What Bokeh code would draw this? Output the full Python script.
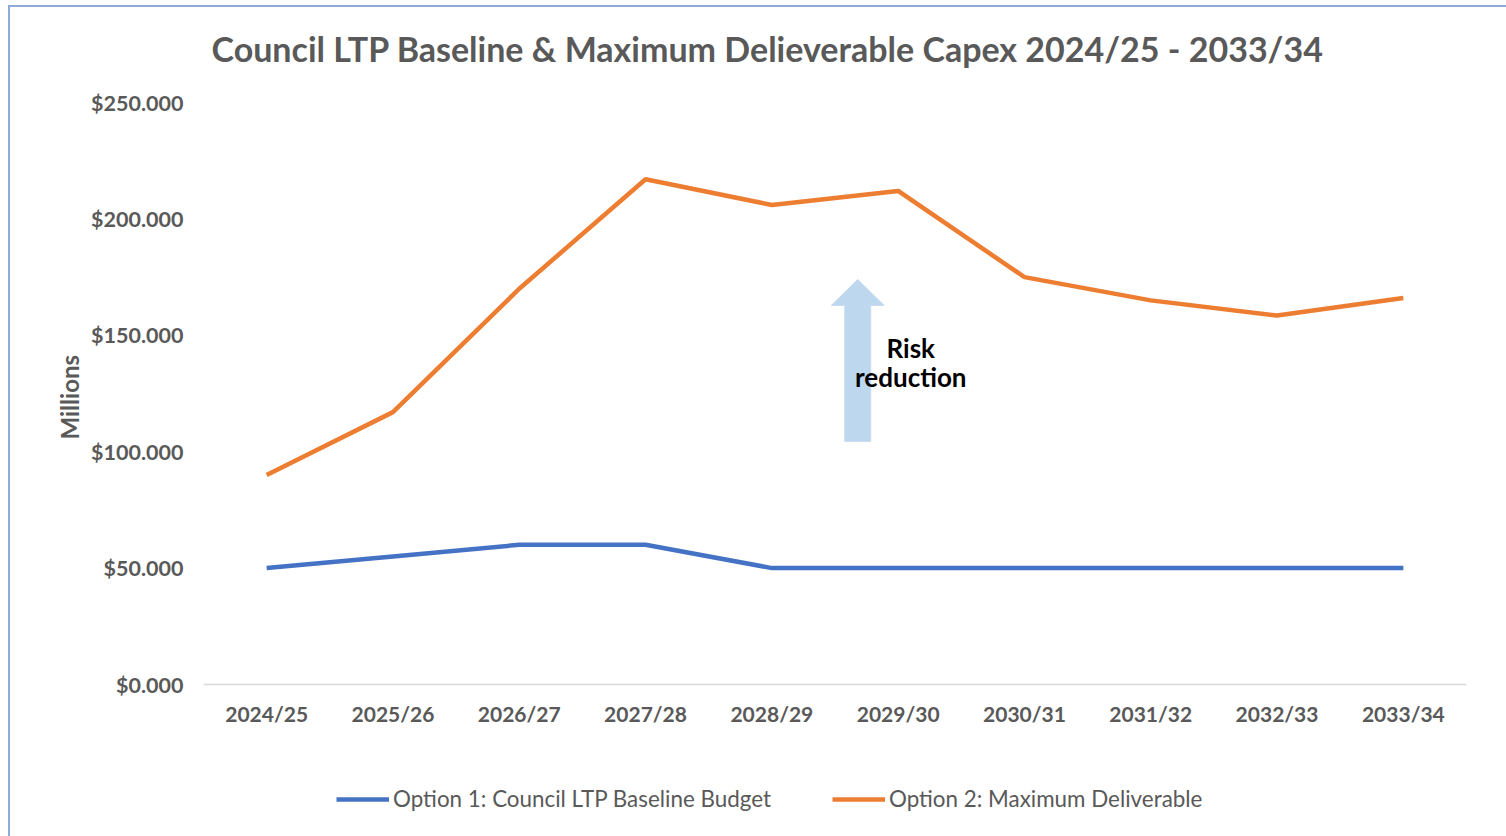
from bokeh.plotting import figure
from bokeh.models import (Range1d, FixedTicker, Title, Legend, LegendItem,
                          Label, NumeralTickFormatter)
from bokeh.embed import file_html
from bokeh.resources import INLINE

years = ["2024/25", "2025/26", "2026/27", "2027/28", "2028/29",
         "2029/30", "2030/31", "2031/32", "2032/33", "2033/34"]
option1 = [50, 55, 60, 60, 50, 50, 50, 50, 50, 50]
option2 = [90, 117, 170, 217, 206, 212, 175, 165, 158.5, 166]
y_ticks = [0, 50, 100, 150, 200, 250]
title_text = "Council LTP Baseline & Maximum Delieverable Capex 2024/25 - 2033/34"
label1 = "Option 1: Council LTP Baseline Budget"
label2 = "Option 2: Maximum Deliverable"

FONT = "Lato"
GRAY = "#595959"
BLUE = "#4472C4"
ORANGE = "#ED7D31"

xs = list(range(len(years)))

# vertical scale: 582 px for 0..250; 15 px of headroom above 250,
# 152 px below zero for the category labels and the legend
AXIS_TOP = 250
PX_PER_UNIT = 582 / AXIS_TOP
Y_MAX = AXIS_TOP + 15 / PX_PER_UNIT
Y_MIN = -152 / PX_PER_UNIT

p = figure(frame_width=1263, frame_height=749, output_backend="svg",
           toolbar_location=None,
           x_range=Range1d(-0.5, len(years) - 0.5), y_range=Range1d(Y_MIN, Y_MAX),
           min_border_left=193, min_border_top=0, min_border_right=40,
           min_border_bottom=0)
p.margin = (5, 0, 0, 8)
p.styles = {"border-left": "2px solid #8eaadb", "border-top": "2px solid #8eaadb"}
p.outline_line_color = None
p.xgrid.grid_line_color = None
p.ygrid.grid_line_color = None
p.background_fill_color = "white"
p.border_fill_color = "white"

# axes
p.xaxis.fixed_location = 0
p.xaxis.ticker = FixedTicker(ticks=xs)
p.xaxis.major_label_overrides = {i: y for i, y in enumerate(years)}
p.xaxis.axis_line_color = "#d9d9d9"
p.xaxis.axis_line_width = 1.5
p.xaxis.major_tick_line_color = None
p.xaxis.minor_tick_line_color = None
p.xaxis.major_label_text_font = FONT
p.xaxis.major_label_text_font_style = "bold"
p.xaxis.major_label_text_font_size = "21px"
p.xaxis.major_label_text_color = GRAY
p.xaxis.major_label_standoff = 10

p.yaxis.ticker = FixedTicker(ticks=y_ticks)
p.yaxis.formatter = NumeralTickFormatter(format="$0.000")
p.yaxis.axis_line_color = None
p.yaxis.major_tick_line_color = None
p.yaxis.minor_tick_line_color = None
p.yaxis.major_label_text_font = FONT
p.yaxis.major_label_text_font_style = "bold"
p.yaxis.major_label_text_font_size = "21.5px"
p.yaxis.major_label_text_color = GRAY
p.yaxis.major_label_standoff = 14

# y axis title, centred on the 0..250 part of the plot
yt = Title(text="Millions", text_font=FONT, text_font_style="bold",
           text_font_size="24px", text_color=GRAY, align="left",
           offset=397, standoff=10)
p.add_layout(yt, "left")

# title
t = Title(text=title_text, text_font=FONT, text_font_style="bold",
          text_font_size="34px", text_color=GRAY, align="left",
          vertical_align="bottom", offset=8, standoff=37)
p.add_layout(t, "above")

# risk reduction arrow (annotation)
ax = 4.68
hw = 0.103
hh = 0.21
y_tip, y_base, y_bot = 174.0, 162.8, 104.4
p.patch([ax - hw, ax - hw, ax - hh, ax, ax + hh, ax + hw, ax + hw],
        [y_bot, y_base, y_base, y_tip, y_base, y_base, y_bot],
        fill_color="#bdd7ee", line_color="#c9ddf1", line_width=1)

p.add_layout(Label(x=5.1, y=144.5, text="Risk", text_font=FONT,
                   text_font_style="bold", text_font_size="26px",
                   text_color="black", text_align="center",
                   text_baseline="middle"))
p.add_layout(Label(x=5.1, y=132, text="reduction", text_font=FONT,
                   text_font_style="bold", text_font_size="26px",
                   text_color="black", text_align="center",
                   text_baseline="middle"))

r1 = p.line(xs, option1, line_color=BLUE, line_width=4.5)
r2 = p.line(xs, option2, line_color=ORANGE, line_width=4.5)

legend = Legend(items=[LegendItem(label=label1, renderers=[r1]),
                       LegendItem(label=label2, renderers=[r2])],
                orientation="horizontal", location=(133, 24),
                label_text_font=FONT, label_text_font_size="22.4px",
                label_text_color=GRAY, glyph_width=53, glyph_height=24,
                label_standoff=4, spacing=61, border_line_color=None,
                background_fill_alpha=0, padding=0, margin=0)
p.add_layout(legend, "center")

open("out.html", "w").write(file_html(p, INLINE))
